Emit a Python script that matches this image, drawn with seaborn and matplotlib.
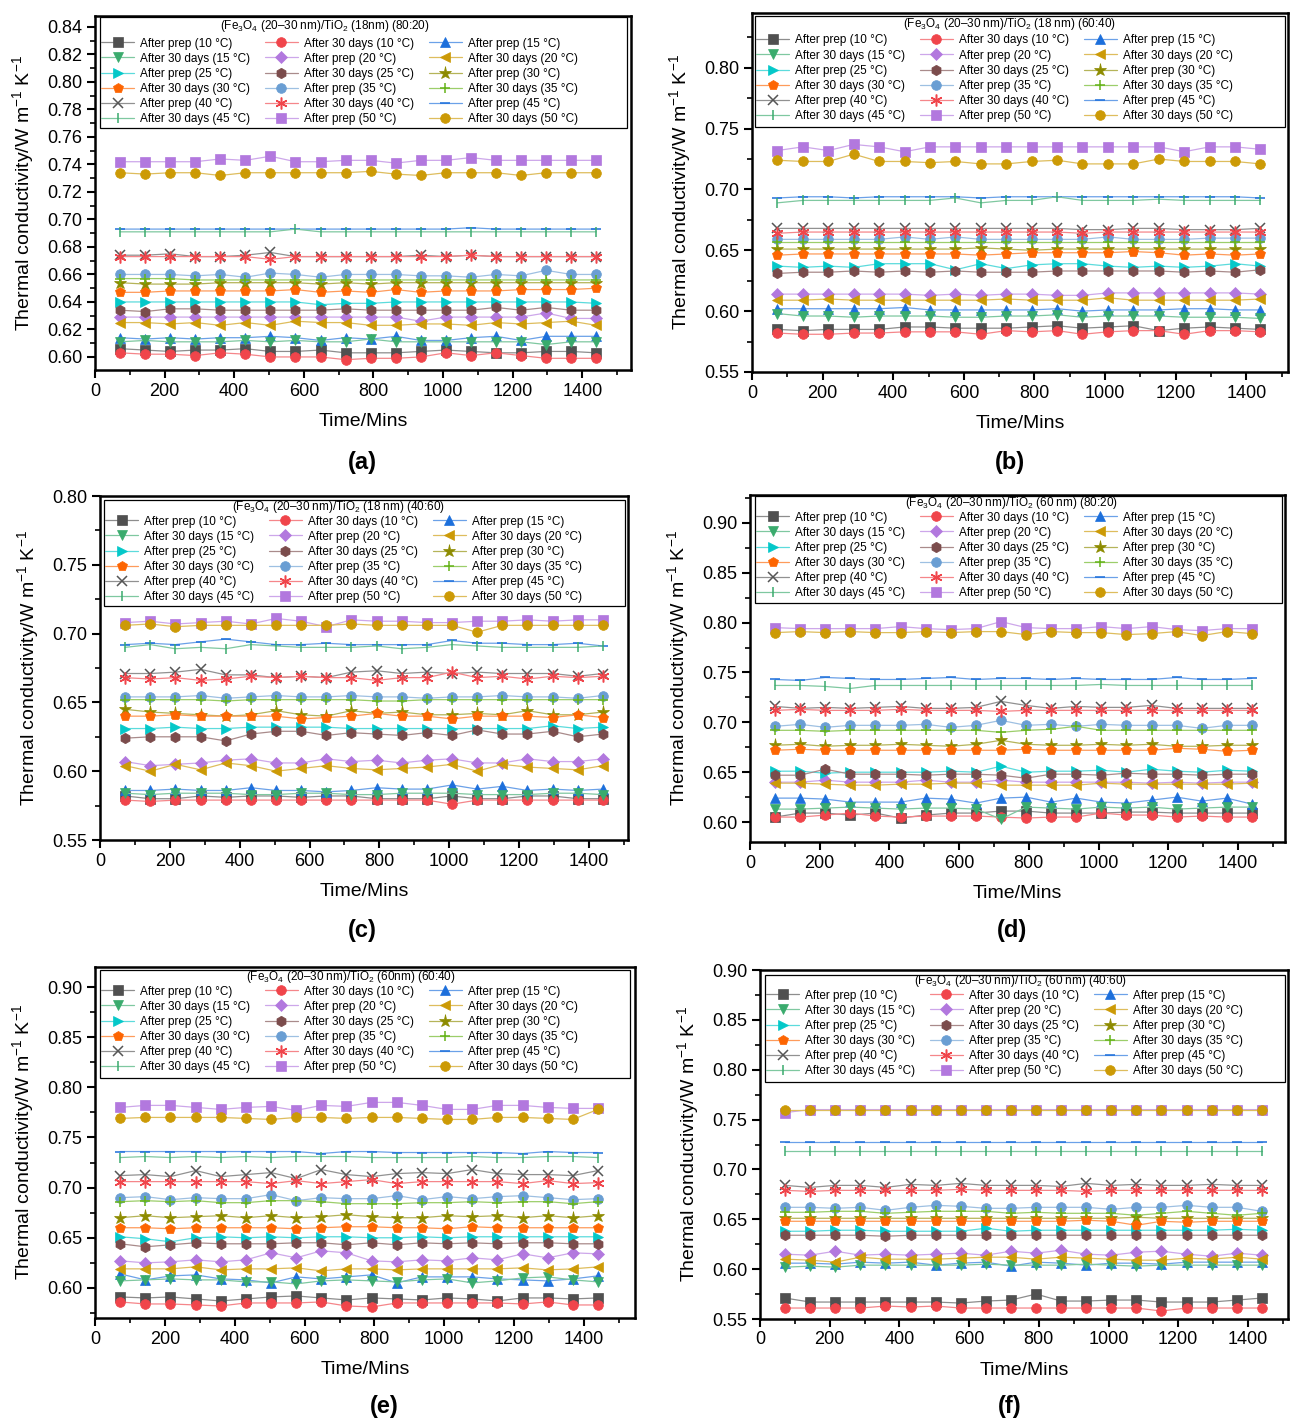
import matplotlib
matplotlib.use("Agg")
import matplotlib.pyplot as plt
from matplotlib.lines import Line2D
from matplotlib.patches import Rectangle
from matplotlib.ticker import MultipleLocator, FormatStrFormatter
import matplotlib.colors as mcolors
import numpy as np
import seaborn as sns

# Sampling times (min) over 24 h
TIME_MINS = [72, 144, 216, 288, 360, 432, 504, 576, 648, 720,
             792, 864, 936, 1008, 1080, 1152, 1224, 1296, 1368, 1440]

SERIES_LABELS = [
    "After prep (10 °C)", "After 30 days (10 °C)", "After prep (15 °C)",
    "After 30 days (15 °C)", "After prep (20 °C)", "After 30 days (20 °C)",
    "After prep (25 °C)", "After 30 days (25 °C)", "After prep (30 °C)",
    "After 30 days (30 °C)", "After prep (35 °C)", "After 30 days (35 °C)",
    "After prep (40 °C)", "After 30 days (40 °C)", "After prep (45 °C)",
    "After 30 days (45 °C)", "After prep (50 °C)", "After 30 days (50 °C)",
]

PANEL_TITLES = [
    r"(Fe$_3$O$_4$ (20–30 nm)/TiO$_2$ (18nm) (80:20)",
    r"(Fe$_3$O$_4$ (20–30 nm)/TiO$_2$ (18 nm) (60:40)",
    r"(Fe$_3$O$_4$ (20–30 nm)/TiO$_2$ (18 nm) (40:60)",
    r"(Fe$_3$O$_4$ (20–30 nm)/TiO$_2$ (60 nm) (80:20)",
    r"(Fe$_3$O$_4$ (20–30 nm)/TiO$_2$ (60nm) (60:40)",
    r"(Fe$_3$O$_4$ (20–30 nm)/TiO$_2$ (60 nm) (40:60)",
]
PANEL_LETTERS = ["(a)", "(b)", "(c)", "(d)", "(e)", "(f)"]

# Thermal conductivity in mW m^-1 K^-1, one row per series (legend order)
PANEL_A = [
    [606,605,604,605,605,606,604,604,605,603,603,603,604,605,604,603,603,604,604,603],
    [603,602,602,601,603,602,600,600,600,598,599,599,600,603,601,603,601,599,599,599],
    [614,613,614,613,614,614,615,614,612,614,613,615,612,612,614,615,612,615,615,615],
    [611,612,611,611,611,612,611,612,611,611,613,611,611,611,611,611,611,609,611,611],
    [629,629,629,629,629,629,629,629,629,629,629,629,626,629,629,629,629,632,628,628],
    [625,625,624,625,623,625,623,626,625,625,623,623,624,624,623,625,624,625,626,623],
    [640,640,640,640,640,640,640,640,638,639,639,640,640,640,640,640,640,640,640,639],
    [634,633,635,635,634,634,634,634,634,635,634,634,634,634,634,636,634,636,634,634],
    [654,653,653,653,654,654,654,654,653,654,653,654,654,654,654,654,654,654,654,654],
    [647,647,648,648,648,648,648,649,647,648,647,649,647,648,648,648,649,649,649,650],
    [660,660,660,659,660,658,661,660,658,660,660,660,659,659,658,660,659,663,660,660],
    [657,657,657,656,656,656,656,656,656,656,656,656,656,656,656,656,656,656,656,656],
    [674,674,675,673,673,674,676,673,673,673,673,673,674,673,674,673,673,673,673,673],
    [673,673,673,673,673,673,671,673,673,673,673,673,673,673,674,673,673,673,673,673],
    [693,693,693,693,693,693,693,693,693,693,693,693,693,693,694,693,693,693,693,693],
    [691,691,691,691,691,691,691,693,691,691,691,691,691,691,691,691,691,691,691,691],
    [742,742,742,742,744,743,746,742,742,743,743,741,743,743,745,743,743,743,743,743],
    [734,733,734,734,732,734,734,734,734,734,735,733,732,734,734,734,732,734,734,734],
]

PANEL_B = [
    [585,584,585,585,585,587,587,586,586,586,587,588,586,587,588,584,586,587,586,585],
    [582,581,581,582,582,583,583,583,581,584,583,584,581,583,584,584,581,584,584,583],
    [602,602,602,602,602,603,601,601,601,601,601,602,600,601,601,601,602,602,601,601],
    [598,596,596,595,596,596,596,595,595,596,596,597,595,596,596,596,595,595,595,594],
    [614,614,614,614,614,614,613,614,613,614,614,613,613,615,615,615,615,615,615,614],
    [609,609,610,609,609,609,609,609,609,610,609,609,609,611,609,609,609,609,609,610],
    [637,636,637,636,639,639,639,634,639,635,638,639,639,637,636,637,636,637,639,637],
    [631,632,632,633,632,633,632,633,632,632,632,633,633,633,633,633,632,633,632,634],
    [651,651,651,651,651,651,651,651,652,651,650,651,651,651,651,651,651,651,651,651],
    [646,647,647,647,647,647,647,647,646,647,648,648,648,648,649,648,646,647,646,647],
    [659,659,659,659,659,661,659,661,659,659,659,659,659,661,659,659,659,660,660,660],
    [657,657,657,657,657,657,657,657,657,657,657,657,657,657,657,657,657,657,657,657],
    [668,668,668,668,668,668,668,668,668,668,668,668,667,667,668,668,667,667,667,668],
    [664,665,665,665,665,665,665,665,665,665,665,665,664,665,665,665,665,665,665,665],
    [693,694,694,693,694,694,694,694,693,694,694,694,694,694,694,694,694,694,694,693],
    [689,691,691,691,691,691,691,693,689,691,691,694,691,691,691,692,691,691,691,691],
    [732,735,732,737,735,731,735,735,735,735,735,735,735,735,735,735,731,735,735,733],
    [724,723,723,729,723,723,722,723,721,721,723,724,721,721,721,725,723,723,723,721],
]

PANEL_C = [
    [582,580,580,582,581,582,582,581,582,582,580,580,580,582,580,580,582,582,580,580],
    [579,578,579,579,579,579,579,579,579,579,579,579,579,576,579,579,579,579,579,579],
    [586,586,587,586,586,588,586,586,585,586,588,587,587,590,587,589,586,587,586,587],
    [584,583,584,584,584,583,583,584,584,583,583,584,584,584,583,583,583,584,584,583],
    [607,604,605,606,608,609,606,606,609,607,608,606,608,609,606,606,609,607,607,609],
    [604,600,605,601,606,604,600,602,604,602,601,602,603,605,600,605,603,602,601,604],
    [631,631,632,631,631,632,632,632,632,631,631,631,631,631,631,631,631,633,631,632],
    [624,625,625,625,622,627,629,629,626,628,627,626,628,626,630,627,627,629,625,627],
    [645,643,642,641,640,641,644,641,640,644,642,643,641,641,642,641,644,641,641,643],
    [640,640,641,640,640,640,640,638,639,640,642,640,640,638,640,640,640,639,641,639],
    [654,654,654,655,653,654,655,654,654,655,654,654,653,654,654,655,654,654,653,655],
    [652,652,652,652,651,652,652,652,652,652,651,651,652,652,652,652,652,652,652,652],
    [671,671,672,674,670,670,668,669,668,672,673,671,672,671,672,671,671,671,669,671],
    [668,667,668,666,667,669,668,669,668,668,666,668,668,672,668,669,667,669,668,669],
    [692,693,692,694,696,694,692,692,693,692,692,692,692,695,693,693,692,692,693,691],
    [690,692,689,690,689,692,691,690,690,690,691,689,690,692,691,690,690,690,690,691],
    [708,709,707,708,709,707,711,709,705,710,709,709,708,708,709,709,710,709,710,710],
    [706,707,705,706,706,706,706,706,706,707,706,706,706,706,701,706,706,706,706,706],
]

PANEL_D = [
    [605,609,609,607,609,604,607,609,609,611,611,609,609,609,610,610,609,609,609,609],
    [605,605,607,609,606,605,606,606,606,605,604,605,605,609,607,607,605,606,605,605],
    [624,624,623,620,620,620,624,623,619,624,625,620,624,620,619,622,625,621,624,618],
    [613,613,614,615,614,613,614,614,613,603,615,614,613,615,614,615,613,614,615,615],
    [640,640,642,640,640,640,642,640,640,642,640,640,640,640,640,639,640,639,640,640],
    [639,639,638,637,637,638,638,639,639,637,637,637,637,639,638,638,638,638,638,639],
    [651,651,649,650,650,650,650,651,650,656,650,651,651,652,650,653,651,650,652,651],
    [647,647,653,648,648,648,647,648,648,647,644,648,648,647,649,648,648,647,648,648],
    [677,678,676,677,677,678,677,676,678,682,678,677,677,678,677,678,676,676,677,677],
    [672,673,672,672,672,672,672,672,672,672,673,672,672,672,672,672,674,673,671,672],
    [696,698,695,697,697,697,698,695,697,702,697,698,696,698,697,697,697,694,697,697],
    [692,692,691,692,692,692,692,692,692,690,692,693,696,692,692,692,692,692,692,692],
    [716,714,715,714,715,716,714,714,715,721,717,714,716,715,715,717,714,714,714,714],
    [712,713,712,712,712,713,712,712,712,711,712,712,712,712,712,712,712,712,712,712],
    [743,742,745,744,743,743,744,745,743,744,744,743,744,743,743,743,745,743,743,744],
    [737,737,736,734,737,737,737,737,737,737,737,737,737,738,737,737,737,737,737,737],
    [795,794,794,794,794,796,794,793,794,801,795,794,794,796,794,796,793,792,794,794],
    [790,791,790,791,790,790,791,790,791,791,788,791,790,790,788,789,791,787,791,789],
]

PANEL_E = [
    [591,590,591,589,587,589,591,592,590,588,590,589,588,590,589,587,590,590,589,590],
    [586,584,584,583,582,585,585,585,586,582,581,585,585,585,585,585,584,586,583,583],
    [614,608,612,613,609,608,605,611,609,611,613,605,611,611,611,609,608,607,609,612],
    [607,608,609,608,608,606,606,604,607,608,607,606,608,609,605,607,610,611,608,606],
    [627,625,626,628,626,628,635,630,637,635,627,626,628,627,630,628,634,630,635,634],
    [619,619,619,621,618,619,619,620,617,619,619,618,619,619,619,619,620,618,619,621],
    [651,649,646,650,651,650,651,650,651,651,650,650,651,650,651,651,651,651,651,651],
    [644,641,643,645,644,644,644,645,645,643,645,643,645,644,645,644,645,645,644,644],
    [670,672,670,671,672,670,672,670,671,673,671,670,670,672,671,672,670,672,670,672],
    [660,660,659,660,660,660,660,659,660,661,661,660,660,659,661,660,660,660,660,660],
    [690,691,688,690,689,689,693,687,690,689,689,692,688,691,689,691,692,690,688,689],
    [686,687,686,687,685,685,687,687,686,684,684,684,685,685,686,685,686,686,684,686],
    [712,713,711,717,711,713,715,709,718,713,711,714,715,714,718,714,713,713,712,717],
    [706,706,706,706,706,706,704,707,704,706,708,704,706,706,706,706,704,707,704,705],
    [736,736,736,736,736,736,736,736,734,736,736,735,735,735,735,735,734,736,735,735],
    [730,731,730,731,730,731,730,731,731,731,730,730,730,730,731,730,730,731,731,730],
    [780,782,782,780,778,780,781,777,782,781,785,785,782,778,778,782,782,780,779,779],
    [769,770,770,770,770,769,768,770,770,769,770,770,769,768,768,770,770,769,768,778],
]

PANEL_F = [
    [571,567,567,567,567,567,567,566,568,569,575,568,568,569,569,567,567,567,569,571],
    [561,561,561,561,563,562,563,561,561,561,561,561,561,561,561,558,561,561,561,561],
    [606,606,605,607,606,607,604,606,607,603,607,606,604,606,606,605,607,607,607,607],
    [602,603,602,604,604,604,604,604,605,604,604,604,605,604,603,604,604,604,604,604],
    [615,614,618,614,615,614,615,616,614,618,616,619,615,614,617,618,615,613,616,614],
    [610,609,607,612,610,610,610,611,612,612,610,612,611,610,609,609,611,610,612,610],
    [638,638,639,639,638,638,638,638,641,638,639,639,639,639,639,639,639,639,640,639],
    [634,634,634,634,633,634,634,634,634,634,634,634,634,634,634,634,634,634,634,634],
    [651,651,651,651,651,651,651,651,651,651,651,651,651,651,652,651,651,651,651,651],
    [648,648,648,648,648,648,648,648,648,648,648,648,649,648,644,648,647,648,648,648],
    [662,662,661,662,659,662,664,663,661,661,662,662,662,660,662,662,664,662,662,658],
    [657,657,658,658,656,657,658,658,658,656,657,656,656,656,654,656,658,656,654,656],
    [684,682,684,684,682,685,684,686,684,684,684,683,686,684,685,684,684,685,684,684],
    [679,678,679,679,679,679,679,680,679,679,679,679,678,679,679,679,679,679,679,679],
    [728,728,728,728,728,728,728,728,728,728,728,728,728,728,728,728,728,728,728,728],
    [718,718,718,718,718,718,718,718,718,718,718,718,718,718,718,718,718,718,718,718],
    [757,760,760,760,760,760,760,760,760,760,760,760,760,760,760,760,760,760,760,760],
    [760,760,760,760,760,760,760,760,760,760,760,760,760,760,760,760,760,760,760,760],
]

PANELS = [PANEL_A, PANEL_B, PANEL_C, PANEL_D, PANEL_E, PANEL_F]

# Series styling (Origin-like palette)
COLORS = ["#505050", "#f0454b", "#1c6fdb", "#3aab6d", "#b278de", "#cc9a06",
          "#04c8c9", "#7b4c4c", "#8d8b00", "#fd6502", "#6a9ed3", "#66b31a",
          "#555555", "#f0454b", "#1c6fdb", "#3aab6d", "#b278de", "#cc9a06"]
MARKERS = ["s", "o", "^", "v", "D", "<", ">", "h", "*", "p", "o", "+",
           "x", (6, 2, 0), "_", "|", "s", "o"]
MSIZES = [6.5, 7, 7.5, 7.5, 6, 7.5, 7.5, 7.5, 9.5, 7.5, 7, 6.5,
          7, 8.5, 7, 6.5, 6.5, 7]
LINE_MARKERS = {"+", "x", "_", "|"}

# Layout (pixel boxes: left, top, right, bottom) and axis ranges
FIG_W, FIG_H = 1291, 1421
AX_BOXES = [(95, 16, 631, 370), (752, 13, 1288, 372),
            (100, 496, 628, 840), (750, 495, 1285, 842),
            (95, 967, 635, 1318), (760, 970, 1288, 1319)]
LEGEND_BOXES = [(100, 17, 627, 128), (755, 16, 1285, 127),
                (104, 500, 625, 606), (755, 496, 1282, 603),
                (100, 970, 630, 1078), (765, 975, 1285, 1082)]
TITLE_POS = [(325, 26), (1009, 24), (338, 507), (1011, 503),
             (351, 977), (1020, 981)]
FIRST_ROW_Y = [43, 40, 521, 517, 991, 995]
XMAX = [1540, 1518, 1512, 1535, 1546, 1515]
YLIMS = [(0.5905, 0.848), (0.55, 0.845), (0.55, 0.80),
         (0.58, 0.928), (0.57, 0.92), (0.55, 0.90)]
YTICK_RANGE = [(0.60, 0.84, 0.02), (0.55, 0.80, 0.05), (0.55, 0.80, 0.05),
               (0.60, 0.90, 0.05), (0.60, 0.90, 0.05), (0.55, 0.90, 0.05)]
LETTER_POS = [(362, 463), (1010, 463), (362, 931), (1012, 931),
              (384, 1406), (1010, 1406)]

sns.set_theme(style="ticks")
plt.rcParams.update({
    "font.family": ["Liberation Sans", "DejaVu Sans"],
    "mathtext.fontset": "custom",
    "mathtext.rm": "Liberation Sans",
    "mathtext.it": "Liberation Sans:italic",
    "mathtext.bf": "Liberation Sans:bold",
    "mathtext.default": "regular",
    "axes.edgecolor": "black",
    "axes.linewidth": 1.8,
    "xtick.color": "black",
    "ytick.color": "black",
    "text.color": "black",
    "axes.labelcolor": "black",
})


def lighten(color, amount=0.35):
    rgb = np.array(mcolors.to_rgb(color))
    return tuple(rgb + (1 - rgb) * amount)


def fx(px):
    return px / FIG_W


def fy(py):
    return 1 - py / FIG_H


fig = plt.figure(figsize=(FIG_W / 100, FIG_H / 100), dpi=100)

for p, data in enumerate(PANELS):
    l, t, r, b = AX_BOXES[p]
    ax = fig.add_axes([fx(l), fy(b), (r - l) / FIG_W, (b - t) / FIG_H])

    handles = []
    for i, vals in enumerate(data):
        y = [v / 1000 for v in vals]
        c = COLORS[i]
        mk = MARKERS[i]
        is_line = (mk in LINE_MARKERS) if isinstance(mk, str) else True
        mew = 1.1 if is_line else 0.5
        sns.lineplot(x=TIME_MINS, y=y, ax=ax, color=lighten(c), linewidth=0.9,
                     marker=mk, markersize=MSIZES[i], markerfacecolor=c,
                     markeredgecolor=c, markeredgewidth=mew,
                     estimator=None, errorbar=None, legend=False, zorder=2 + i * 0.01)
        handles.append(Line2D([], [], color=lighten(c), linewidth=0.9, marker=mk,
                              markersize=MSIZES[i], markerfacecolor=c,
                              markeredgecolor=c, markeredgewidth=mew))

    ax.set_xlim(0, XMAX[p])
    ax.set_ylim(*YLIMS[p])
    lo, hi, step = YTICK_RANGE[p]
    ax.set_yticks(np.round(np.arange(lo, hi + step / 2, step), 3))
    ax.yaxis.set_minor_locator(MultipleLocator(step / 2))
    ax.yaxis.set_major_formatter(FormatStrFormatter("%.2f"))
    ax.set_xticks(np.arange(0, 1401, 200))
    ax.xaxis.set_minor_locator(MultipleLocator(100))
    ax.tick_params(which="major", direction="out", length=6, width=1.5,
                   labelsize=13, pad=3)
    ax.tick_params(which="minor", direction="out", length=3.5, width=1.2)
    ax.tick_params(top=False, right=False, which="both")
    for s in ax.spines.values():
        s.set_visible(True)
        s.set_linewidth(1.8)
        s.set_color("black")

    ax.set_xlabel("Time/Mins", fontsize=14, labelpad=10)
    ax.set_ylabel(r"Thermal conductivity/W m$^{-1}$ K$^{-1}$", fontsize=14, labelpad=8)

    # Legend frame with a title line, entries laid out row by row in three columns
    bl, bt, br, bb = LEGEND_BOXES[p]
    frame = Rectangle((fx(bl), fy(bb)), (br - bl) / FIG_W, (bb - bt) / FIG_H,
                      transform=fig.transFigure, facecolor="white",
                      edgecolor="black", linewidth=0.9, zorder=4, clip_on=False)
    ax.add_artist(frame)
    ax.text(fx(TITLE_POS[p][0]), fy(TITLE_POS[p][1]), PANEL_TITLES[p],
            transform=fig.transFigure, ha="center", va="center",
            fontsize=8.5, zorder=6)

    order = [row * 3 + col for col in range(3) for row in range(6)]
    leg = ax.legend([handles[k] for k in order], [SERIES_LABELS[k] for k in order],
                    ncol=3, loc="upper left",
                    bbox_to_anchor=(fx(bl + 1), fy(FIRST_ROW_Y[p] - 5.5)),
                    bbox_transform=fig.transFigure,
                    borderaxespad=0, borderpad=0, fontsize=8.5, frameon=False,
                    handlelength=2.8, handletextpad=0.5, labelspacing=0.26,
                    columnspacing=1.25)
    leg.set_zorder(5)

    fig.text(fx(LETTER_POS[p][0]), fy(LETTER_POS[p][1]), PANEL_LETTERS[p],
             ha="center", va="center", fontsize=17, fontweight="bold")

fig.savefig("out.png", dpi=100)
